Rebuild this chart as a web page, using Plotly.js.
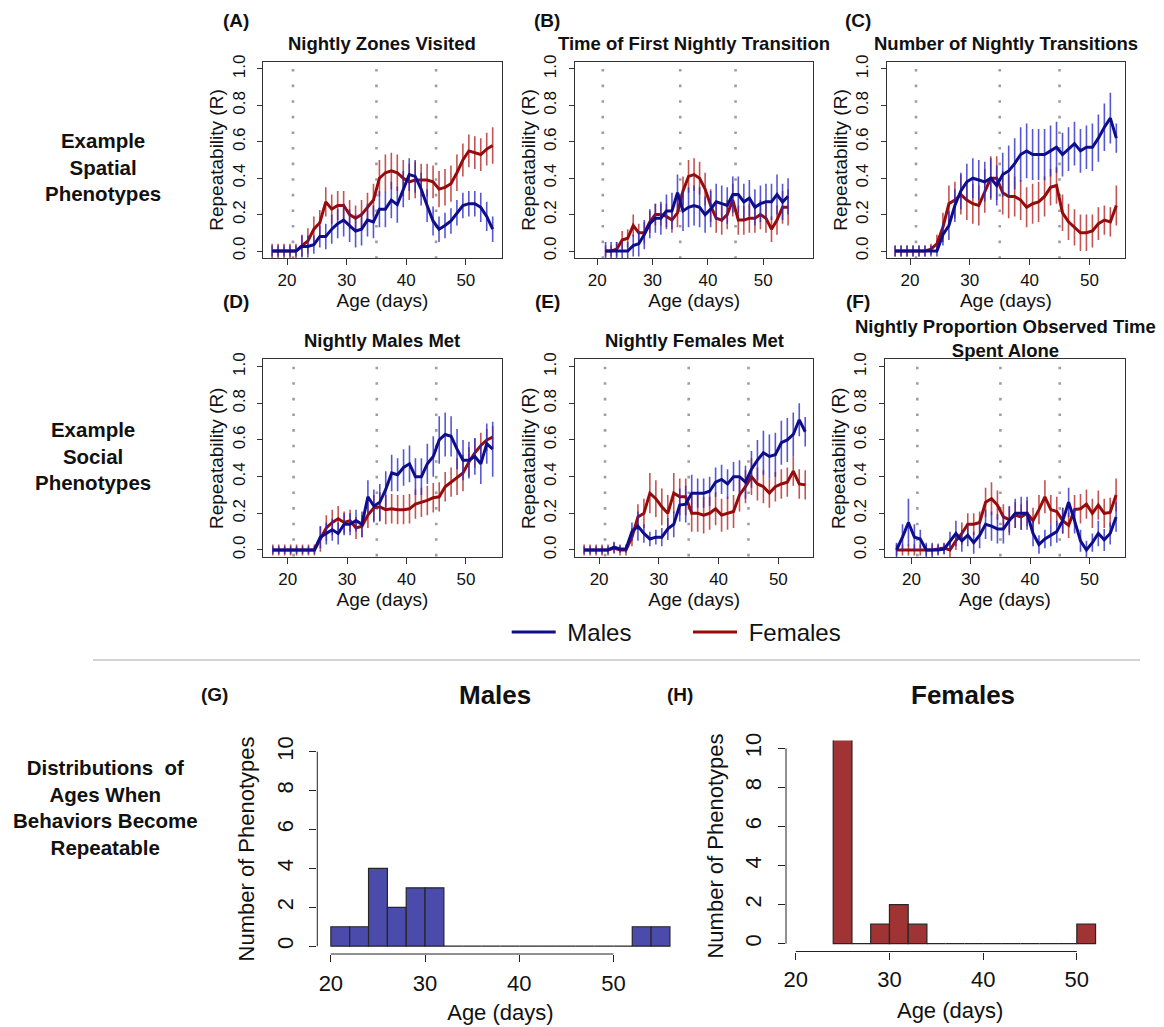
<!DOCTYPE html>
<html><head><meta charset="utf-8">
<script src="https://cdn.plot.ly/plotly-3.0.1.min.js"></script>
<style>html,body{margin:0;padding:0;background:#fff;}#chart{width:1164px;height:1027px;}</style>
</head><body><div id="chart"></div>
<script>
// ---------- data ----------
const ages = [17.5,18.5,19.5,20.5,21.5,22.5,23.5,24.5,25.5,26.5,27.5,28.5,29.5,30.5,31.5,32.5,33.5,34.5,35.5,36.5,37.5,38.5,39.5,40.5,41.5,42.5,43.5,44.5,45.5,46.5,47.5,48.5,49.5,50.5,51.5,52.5,53.5,54.5];

const zonesMale   = [0,0,0,0,0, 0.025,0.025,0.035,0.08,0.08,0.12,0.15,0.17,0.14,0.11, 0.12,0.17,0.16,0.23,0.23,0.28,0.255,0.34,0.42,0.41, 0.34,0.25,0.165,0.12,0.14,0.165,0.21,0.25,0.26,0.26, 0.24,0.19,0.12];
const zonesMaleErr= [0.03,0.03,0.03,0.03,0.03, 0.06,0.06,0.05,0.06,0.07,0.08,0.08,0.09,0.09,0.09, 0.09,0.09,0.09,0.1,0.1,0.1,0.1,0.1,0.09,0.09, 0.09,0.09,0.08,0.07,0.07,0.07,0.07,0.07,0.07,0.07, 0.08,0.08,0.07];
const zonesFemale = [0,0,0,0,0, 0.03,0.055,0.12,0.155,0.27,0.23,0.25,0.25,0.2,0.18, 0.2,0.24,0.28,0.4,0.43,0.44,0.43,0.4,0.38,0.39, 0.39,0.39,0.38,0.34,0.35,0.37,0.43,0.5,0.55,0.54, 0.53,0.56,0.58];
const zonesFemaleErr=[0.04,0.04,0.04,0.04,0.04, 0.06,0.07,0.07,0.07,0.08,0.08,0.08,0.08,0.08,0.07, 0.08,0.08,0.09,0.1,0.1,0.1,0.1,0.1,0.1,0.1, 0.09,0.09,0.09,0.1,0.1,0.1,0.1,0.09,0.09,0.09, 0.09,0.09,0.1];

const firstMale   = [null,null,null,null, 0,0,0,0,0,0.03,0.04,0.09,0.15,0.18, 0.18,0.22,0.22,0.32,0.22,0.24,0.25,0.24,0.2,0.23, 0.27,0.26,0.25,0.31,0.31,0.27,0.29,0.24,0.26,0.27, 0.27,0.31,0.27,0.3];
const firstMaleErr= [null,null,null,null, 0.05,0.05,0.05,0.05,0.05,0.06,0.07,0.08,0.08,0.08, 0.09,0.09,0.1,0.1,0.11,0.11,0.11,0.11,0.1,0.1, 0.1,0.1,0.1,0.1,0.1,0.1,0.1,0.1,0.1,0.1, 0.1,0.11,0.1,0.1];
const firstFemale = [null,null,null,null, 0,0,0.01,0.06,0.07,0.14,0.1,0.1,0.16,0.2, 0.2,0.19,0.17,0.21,0.33,0.41,0.42,0.4,0.34,0.25, 0.18,0.17,0.2,0.28,0.17,0.17,0.18,0.18,0.2,0.18, 0.12,0.17,0.24,0.24];
const firstFemaleErr=[null,null,null,null, 0.03,0.03,0.04,0.05,0.05,0.06,0.05,0.06,0.06,0.06, 0.06,0.07,0.07,0.08,0.08,0.09,0.09,0.09,0.09,0.09, 0.08,0.08,0.08,0.09,0.08,0.08,0.08,0.08,0.08,0.08, 0.07,0.08,0.09,0.1];

const transMale   = [0,0,0,0,0,0,0,0, 0.09,0.14,0.25,0.33,0.38,0.4,0.39,0.38,0.4,0.36, 0.42,0.44,0.48,0.53,0.55,0.53,0.53,0.53,0.55,0.57, 0.53,0.56,0.59,0.55,0.57,0.57,0.62,0.68,0.73,0.62];
const transMaleErr= [0.03,0.03,0.03,0.03,0.03,0.03,0.03,0.03, 0.06,0.08,0.09,0.1,0.1,0.11,0.11,0.11,0.11,0.11, 0.12,0.14,0.14,0.15,0.15,0.14,0.14,0.14,0.14,0.14, 0.12,0.12,0.12,0.12,0.12,0.13,0.13,0.13,0.14,0.08];
const transFemale = [0,0,0,0,0,0, 0.01,0.04,0.13,0.26,0.28,0.31,0.28,0.26,0.25,0.33, 0.4,0.4,0.32,0.3,0.3,0.28,0.24,0.26,0.27,0.3, 0.35,0.36,0.21,0.16,0.13,0.1,0.1,0.11,0.15,0.17, 0.16,0.25];
const transFemaleErr=[0.03,0.03,0.03,0.03,0.03,0.03,0.03, 0.05,0.08,0.1, 0.1,0.11,0.11,0.11,0.11,0.12,0.12,0.12,0.12,0.12, 0.11,0.11,0.11,0.11,0.11,0.11,0.1,0.1,0.1,0.1, 0.1,0.1,0.1,0.09,0.09,0.08,0.08,0.11];

const malesMetMale   = [0,0,0,0,0,0,0,0, 0.07,0.09,0.11,0.09,0.14,0.14,0.16,0.14,0.29,0.24, 0.26,0.33,0.42,0.41,0.45,0.47,0.4,0.4,0.47,0.51, 0.6,0.63,0.62,0.55,0.49,0.49,0.51,0.47,0.58,0.55];
const malesMetMaleErr= [0.02,0.02,0.02,0.02,0.02,0.02,0.02,0.02, 0.06,0.06,0.06,0.06,0.06,0.06,0.06,0.07,0.09,0.09, 0.1,0.1,0.1,0.09,0.1,0.1,0.1,0.1,0.11,0.11, 0.13,0.12,0.11,0.11,0.11,0.1,0.1,0.11,0.11,0.15];
const malesMetFemale = [0,0,0,0,0,0,0,0, 0.06,0.12,0.15,0.17,0.15,0.16,0.12,0.13,0.19,0.23, 0.235,0.22,0.225,0.22,0.22,0.225,0.25,0.26,0.27,0.285, 0.29,0.345,0.37,0.4,0.42,0.48,0.53,0.57,0.6,0.615];
const malesMetFemaleErr=[0.03,0.03,0.03,0.03,0.03,0.03,0.03,0.03, 0.07,0.07,0.07,0.07,0.06,0.06,0.06,0.06,0.07,0.07, 0.08,0.08,0.08,0.08,0.08,0.08,0.08,0.08,0.08,0.08, 0.08,0.08,0.08,0.1,0.1,0.08,0.08,0.07,0.06,0.06];

const femMetMale   = [0,0,0,0,0,0.015,0.005,0.005, 0.1,0.13,0.09,0.06,0.07,0.07,0.115,0.14,0.245,0.25, 0.31,0.31,0.31,0.32,0.37,0.385,0.36,0.4,0.4,0.37, 0.44,0.49,0.53,0.51,0.52,0.585,0.6,0.63,0.71,0.645];
const femMetMaleErr= [0.02,0.02,0.02,0.02,0.02,0.03,0.02,0.02, 0.05,0.08,0.05,0.04,0.04,0.05,0.06,0.07,0.09,0.1, 0.1,0.08,0.08,0.08,0.08,0.08,0.08,0.08,0.09,0.09, 0.1,0.11,0.12,0.12,0.12,0.12,0.12,0.12,0.09,0.08];
const femMetFemale = [0,0,0,0,0,0.01,0,0, 0.07,0.18,0.2,0.31,0.28,0.235,0.2,0.31,0.29,0.29, 0.2,0.2,0.19,0.2,0.225,0.19,0.2,0.21,0.3,0.345, 0.4,0.36,0.345,0.31,0.345,0.36,0.37,0.43,0.36,0.355];
const femMetFemaleErr=[0.03,0.03,0.03,0.03,0.03,0.03,0.03,0.03, 0.05,0.07,0.08,0.11,0.1,0.1,0.1,0.11,0.1,0.1, 0.1,0.1,0.1,0.09,0.09,0.09,0.09,0.09,0.09,0.09, 0.1,0.09,0.09,0.08,0.08,0.08,0.08,0.08,0.08,0.08];

const aloneMale   = [0,0.07,0.15,0.07,0.06,0,0,0, 0.005,0.05,0.09,0.05,0.08,0.04,0.08,0.14,0.13,0.115, 0.115,0.16,0.2,0.2,0.2,0.09,0.03,0.06,0.08,0.1, 0.16,0.26,0.16,0.05,0,0.04,0.09,0.055,0.09,0.18];
const aloneMaleErr= [0.04,0.07,0.13,0.07,0.05,0.04,0.04,0.03, 0.03,0.05,0.07,0.06,0.06,0.06,0.07,0.08,0.08,0.08, 0.08,0.08,0.08,0.09,0.09,0.07,0.05,0.05,0.06,0.06, 0.07,0.08,0.07,0.06,0.05,0.05,0.07,0.06,0.06,0.08];
const aloneFemale = [0,0,0,0,0,0,0,0.005, 0.01,0,0.05,0.09,0.14,0.14,0.15,0.26,0.28,0.245, 0.18,0.165,0.19,0.18,0.2,0.16,0.22,0.29,0.22,0.21, 0.16,0.135,0.22,0.225,0.25,0.2,0.245,0.2,0.205,0.3];
const aloneFemaleErr=[0.03,0.03,0.03,0.03,0.03,0.03,0.03,0.03, 0.03,0.04,0.05,0.06,0.06,0.06,0.06,0.08,0.09,0.08, 0.07,0.07,0.07,0.07,0.07,0.07,0.08,0.09,0.08,0.08, 0.07,0.07,0.08,0.08,0.08,0.08,0.08,0.08,0.08,0.09];

const panelTitles = ["Nightly Zones Visited","Time of First Nightly Transition","Number of Nightly Transitions","Nightly Males Met","Nightly Females Met","Nightly Proportion Observed Time<br>Spent Alone"];
const panelLetters = ["(A)","(B)","(C)","(D)","(E)","(F)"];
const transitionAges = [21,35,45];
const yTicks = [0,0.2,0.4,0.6,0.8,1.0];
const xTicks = [20,30,40,50];

const maleBinCenters = [21,23,25,27,29,31,33,35,37,39,41,43,45,47,49,51,53,55];
const maleCounts     = [1,1,4,2,3,3,0,0,0,0,0,0,0,0,0,0,1,1];
const femaleBinCenters = [25,27,29,31,33,35,37,39,41,43,45,47,49,51];
const femaleCounts     = [11,0,1,2,1,0,0,0,0,0,0,0,0,1];
const histYTicks = [0,2,4,6,8,10];

// ---------- layout helpers ----------
const W = 1164, H = 1027;
const P = x => x / W;
const Q = y => 1 - y / H;
const FONT = "Liberation Sans, Arial, Helvetica, sans-serif";
const MALE = "#0e0e8c", FEMALE = "#960b0b";
const MALE_ERR = "rgba(40,40,200,0.78)", FEMALE_ERR = "rgba(180,35,35,0.78)";

const series = [
  [zonesMale, zonesMaleErr, zonesFemale, zonesFemaleErr],
  [firstMale, firstMaleErr, firstFemale, firstFemaleErr],
  [transMale, transMaleErr, transFemale, transFemaleErr],
  [malesMetMale, malesMetMaleErr, malesMetFemale, malesMetFemaleErr],
  [femMetMale, femMetMaleErr, femMetFemale, femMetFemaleErr],
  [aloneMale, aloneMaleErr, aloneFemale, aloneFemaleErr]
];
// plot boxes in pixels: left, right, top, bottom ; x range
const boxes = [
  {l:263.3, r:501.5, t:61.7, b:258.3, xr:[16.02,55.98]},
  {l:575,   r:813.3, t:61.7, b:258.3, xr:[15.97,59.06]},
  {l:886.7, r:1125,  t:61.7, b:258.3, xr:[16.1,55.95]},
  {l:263.3, r:501.5, t:359.3, b:557.3, xr:[15.9,55.98]},
  {l:575,   r:813.3, t:359.3, b:557.3, xr:[15.97,55.85]},
  {l:885,   r:1125,  t:359.3, b:557.3, xr:[15.55,56.0]}
];

const traces = [];
const legendBase = {orientation: "h", xanchor: "left", yanchor: "top", itemwidth: 44,
  font: {size: 24, family: FONT, color: "#111"}, bgcolor: "rgba(0,0,0,0)", borderwidth: 0};
const layout = {
  width: W, height: H,
  margin: {l:0, r:0, t:0, b:0},
  paper_bgcolor: "#fff", plot_bgcolor: "#fff",
  font: {family: FONT, color: "#111"},
  showlegend: true,
  legend: Object.assign({x: P(506.7), y: Q(610)}, legendBase),
  legend2: Object.assign({x: P(688), y: Q(610)}, legendBase),
  shapes: [], annotations: []
};

boxes.forEach((bx, i) => {
  const n = i + 1;
  const xa = n === 1 ? "x" : "x" + n, ya = n === 1 ? "y" : "y" + n;
  const xkey = n === 1 ? "xaxis" : "xaxis" + n, ykey = n === 1 ? "yaxis" : "yaxis" + n;
  const [m, me, f, fe] = series[i];
  traces.push({type: "scatter", mode: "lines", x: ages, y: f, xaxis: xa, yaxis: ya,
    name: "\u00a0Females", legend: "legend2", showlegend: i === 0,
    line: {color: FEMALE, width: 3},
    error_y: {type: "data", array: fe, visible: true, color: FEMALE_ERR, thickness: 1.6, width: 0}});
  traces.push({type: "scatter", mode: "lines", x: ages, y: m, xaxis: xa, yaxis: ya,
    name: "\u00a0Males", legend: "legend", showlegend: i === 0,
    line: {color: MALE, width: 3},
    error_y: {type: "data", array: me, visible: true, color: MALE_ERR, thickness: 1.6, width: 0}});
  layout[xkey] = {domain: [P(bx.l), P(bx.r)], range: bx.xr, anchor: ya,
    tickvals: xTicks, ticks: "outside", ticklen: 6, tickwidth: 1, tickcolor: "#333",
    showline: true, mirror: true, linecolor: "#333", linewidth: 1,
    showgrid: false, zeroline: false, fixedrange: true,
    tickfont: {size: 17, family: FONT, color: "#111"}, ticklabelstandoff: 0,
    title: {text: "Age (days)", font: {size: 19, family: FONT, color: "#111"}, standoff: 1}};
  layout[ykey] = {domain: [Q(bx.b), Q(bx.t)], range: [-0.04, 1.04], anchor: xa,
    tickvals: yTicks, tickformat: ".1f", ticks: "outside", ticklen: 5, tickwidth: 1, tickcolor: "#333",
    showline: true, mirror: true, linecolor: "#333", linewidth: 1,
    showgrid: false, zeroline: false, fixedrange: true, tickangle: -90,
    tickfont: {size: 17, family: FONT, color: "#111"}, ticklabelstandoff: 6,
    title: {text: "Repeatability (R)", font: {size: 19, family: FONT, color: "#111"}, standoff: 0}};
  transitionAges.forEach(a => {
    layout.shapes.push({type: "line", xref: xa, yref: ya, x0: a, x1: a, y0: 1.0, y1: -0.04,
      layer: "below", line: {color: "#9e9e9e", width: 2.6, dash: "2.6px,13px"}});
  });
  const cx = (bx.l + bx.r) / 2;
  const twoLine = panelTitles[i].indexOf("<br>") >= 0;
  layout.annotations.push({xref: "paper", yref: "paper", x: P(cx), y: Q(bx.t - (twoLine ? 21 : 18.5)),
    text: "<b>" + panelTitles[i] + "</b>", showarrow: false, xanchor: "center", yanchor: "middle", align: "center",
    font: {size: 18.5, family: FONT, color: "#111"}});
});

// panel letters
const letterPos = [[236,21],[547,21],[858,21],[236,301],[547,301],[858,301]];
letterPos.forEach((p, i) => layout.annotations.push({xref: "paper", yref: "paper", x: P(p[0]), y: Q(p[1]),
  text: "<b>" + panelLetters[i] + "</b>", showarrow: false, xanchor: "center", yanchor: "middle",
  font: {size: 19, family: FONT, color: "#111"}}));

// row labels
const rowLabels = [
  {t: "Example<br>Spatial<br>Phenotypes", x: 102.5, y: 167},
  {t: "Example<br>Social<br>Phenotypes", x: 92.5, y: 456},
  {t: "Distributions  of<br>Ages When<br>Behaviors Become<br>Repeatable", x: 105, y: 807}
];
rowLabels.forEach(r => layout.annotations.push({xref: "paper", yref: "paper", x: P(r.x), y: Q(r.y),
  text: "<b>" + r.t + "</b>", showarrow: false, xanchor: "center", yanchor: "middle", align: "center",
  font: {size: 20.5, family: FONT, color: "#111"}}));

// separator
layout.shapes.push({type: "line", xref: "paper", yref: "paper", x0: P(93), x1: P(1140), y0: Q(660), y1: Q(660),
  line: {color: "#c4c4c4", width: 1.5}});

// ---------- histograms ----------
const hists = [
  {x: maleBinCenters, y: maleCounts, color: "#4b4bac", name: "Males", xa: "x7", ya: "y7",
   dom: [P(317.3), P(683.5)], xr: [18.56, 57.44], ydom: [Q(954), Q(743.9)], axisFrom: 20, axisTo: 50,
   title: "Males", tx: 495, letter: "(G)", lx: 214, ysd: 8, ytsd: 11, xsd: 3, xtsd: 9},
  {x: femaleBinCenters, y: femaleCounts, color: "#a03333", name: "Females", xa: "x8", ya: "y8",
   dom: [P(786), P(1114.3)], xr: [18.96, 54], ydom: [Q(951.5), Q(740.5)], axisFrom: 20, axisTo: 50,
   title: "Females", tx: 963, letter: "(H)", lx: 680, ysd: 8, ytsd: 11, xsd: 1, xtsd: 11}
];
hists.forEach((h, k) => {
  traces.push({type: "bar", x: h.x, y: h.y, width: 2, xaxis: h.xa, yaxis: h.ya, name: h.name, showlegend: false,
    marker: {color: h.color, line: {color: "#262626", width: 1.2}}});
  const xkey = "xaxis" + (7 + k), ykey = "yaxis" + (7 + k);
  layout[xkey] = {domain: h.dom, range: h.xr, anchor: h.ya, tickvals: xTicks, ticks: "outside", ticklen: 7,
    tickwidth: 1, tickcolor: "#222", showline: false, showgrid: false, zeroline: false, fixedrange: true,
    tickfont: {size: 22, family: FONT, color: "#111"}, ticklabelstandoff: h.xsd,
    title: {text: "Age (days)", font: {size: 22, family: FONT, color: "#111"}, standoff: h.xtsd}};
  layout[ykey] = {domain: h.ydom, range: [-0.4, 10.4], anchor: h.xa, tickvals: histYTicks, ticks: "outside", ticklen: 7,
    tickwidth: 1, tickcolor: "#222", showline: false, showgrid: false, zeroline: false, fixedrange: true, tickangle: -90,
    tickfont: {size: 22, family: FONT, color: "#111"}, ticklabelstandoff: h.ysd,
    title: {text: "Number of Phenotypes", font: {size: 22, family: FONT, color: "#111"}, standoff: h.ytsd}};
  // axis lines spanning first to last tick (R style)
  layout.shapes.push({type: "line", xref: h.xa, yref: "paper", x0: h.axisFrom, x1: h.axisTo, y0: h.ydom[0], y1: h.ydom[0],
    line: {color: "#222", width: 1}});
  layout.shapes.push({type: "line", xref: "paper", yref: h.ya, x0: h.dom[0], x1: h.dom[0], y0: 0, y1: 10,
    line: {color: "#222", width: 1}});
  layout.annotations.push({xref: "paper", yref: "paper", x: P(h.tx), y: Q(695), text: "<b>" + h.title + "</b>",
    showarrow: false, xanchor: "center", yanchor: "middle", font: {size: 26, family: FONT, color: "#111"}});
  layout.annotations.push({xref: "paper", yref: "paper", x: P(h.lx), y: Q(694), text: "<b>" + h.letter + "</b>",
    showarrow: false, xanchor: "center", yanchor: "middle", font: {size: 19, family: FONT, color: "#111"}});
});
layout.bargap = 0;

Plotly.newPlot("chart", traces, layout, {displayModeBar: false, staticPlot: true});
</script>
</body></html>
